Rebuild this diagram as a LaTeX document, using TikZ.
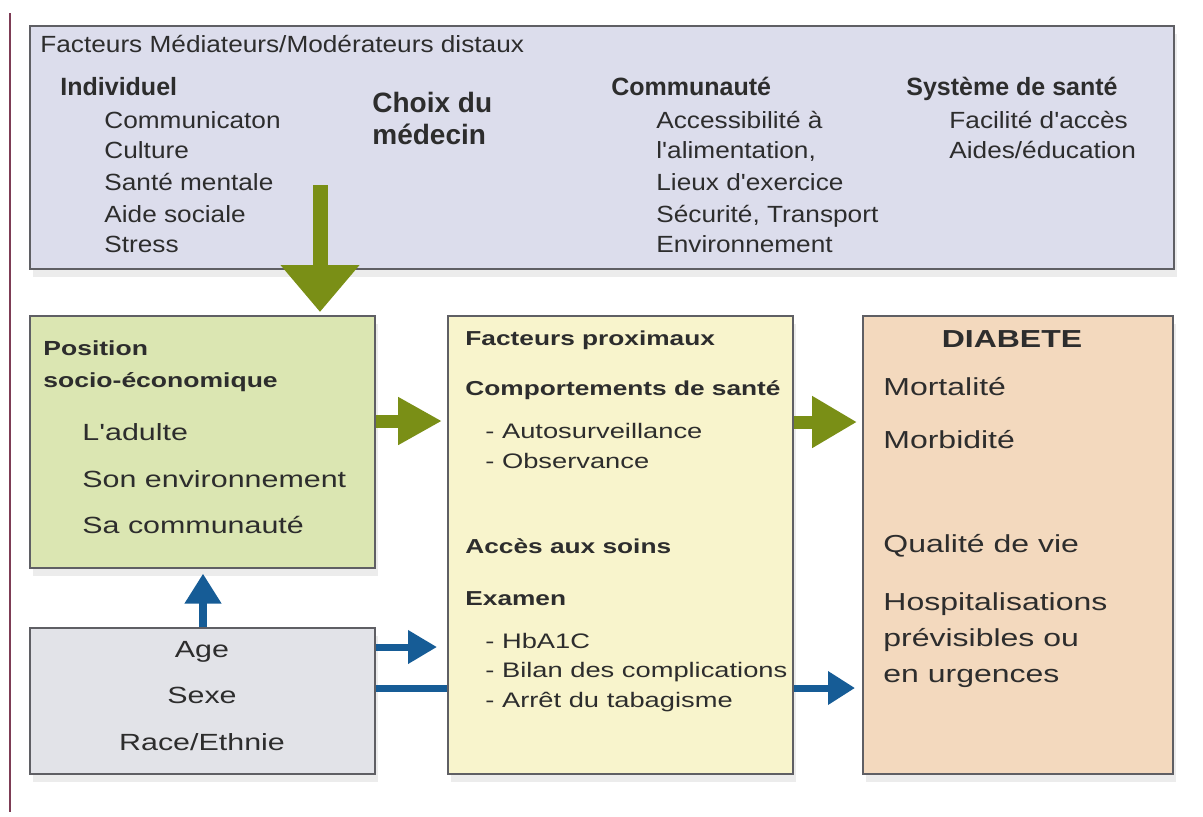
\documentclass[tikz,border=0pt]{standalone}
\usepackage{fontspec}
\setmainfont{Liberation Sans}
\newfontfamily\widefont[FakeStretch=1.3]{Liberation Sans}
\newfontfamily\semiwide[FakeStretch=1.12]{Liberation Sans}
\usetikzlibrary{arrows.meta,shadows}
\newcommand{\fsz}[1]{\fontsize{#1}{#1}\selectfont}
\definecolor{distfill}{RGB}{220,221,236}
\definecolor{sepfill}{RGB}{219,230,178}
\definecolor{demofill}{RGB}{226,227,232}
\definecolor{proxfill}{RGB}{248,244,204}
\definecolor{diabfill}{RGB}{243,217,190}
\definecolor{boxline}{RGB}{95,95,100}
\definecolor{txtc}{RGB}{45,45,45}
\definecolor{agreen}{RGB}{122,143,22}
\definecolor{ablue}{RGB}{22,92,150}
\definecolor{leftline}{RGB}{125,60,85}
\begin{document}
\begin{tikzpicture}[x=0.5pt,y=-0.5pt,
  box/.style={draw=boxline, line width=0.8pt, inner sep=0pt, anchor=north west,
    drop shadow={shadow xshift=1.5pt, shadow yshift=-4pt, opacity=.15}},
  txt/.style={anchor=mid west, inner sep=0pt, text=txtc},
  top/.style={txt, font=\semiwide\fsz{11.7}},
  tophd/.style={txt, font=\fsz{#1}\bfseries},
  low/.style={txt, font=\widefont\fsz{#1}},
  lowhd/.style={txt, font=\widefont\fsz{#1}\bfseries},
  garrow/.style={draw=agreen, line width=#1},
  barrow/.style={draw=ablue, line width=#1}]
\useasboundingbox (0,0) rectangle (1203,816);
\draw[leftline, line width=1pt] (10,13) -- (10,812);

% boxes
\node[box, fill=distfill, minimum width=572pt, minimum height=121.5pt] (dist) at (29,25) {};
\node[box, fill=sepfill, minimum width=172.5pt, minimum height=126pt] (sep) at (29,315) {};
\node[box, fill=demofill, minimum width=172.5pt, minimum height=73pt] (demo) at (29,627) {};
\node[box, fill=proxfill, minimum width=172.5pt, minimum height=229pt] (prox) at (447,315) {};
\node[box, fill=diabfill, minimum width=155pt, minimum height=229pt] (diab) at (862,315) {};

% distal factors
\node[top] (t0) at (40,47) {Facteurs Médiateurs/Modérateurs distaux};
\node[tophd=12.5] (i0) at (60,90) {Individuel};
\node[top] (i1) at (104,123) {Communicaton};
\node[top] (i2) at (104,153) {Culture};
\node[top] (i3) at (104,185) {Santé mentale};
\node[top] (i4) at (104,217) {Aide sociale};
\node[top] (i5) at (104,247) {Stress};
\node[tophd=14] (ch1) at (372,107) {Choix du};
\node[tophd=14] (ch2) at (372,139) {médecin};
\node[tophd=12.5] (c0) at (611,90) {Communauté};
\node[top] (c1) at (656,123) {Accessibilité à};
\node[top] (c2) at (656,153) {l'alimentation,};
\node[top] (c3) at (656,185) {Lieux d'exercice};
\node[top] (c4) at (656,217) {Sécurité, Transport};
\node[top] (c5) at (656,247) {Environnement};
\node[tophd=12.5] (s0) at (906,90) {Système de santé};
\node[top] (s1) at (949,123) {Facilité d'accès};
\node[top] (s2) at (949,153) {Aides/éducation};

% socio-economic position
\node[lowhd=10.2] (p1) at (43,350) {Position};
\node[lowhd=10.2] (p2) at (43,382) {socio-économique};
\node[low=11.7] (p3) at (82,435) {L'adulte};
\node[low=11.7] (p4) at (82,482) {Son environnement};
\node[low=11.7] (p5) at (82,528) {Sa communauté};

% age, sex, race
\node[low=11.7, anchor=mid] (a1) at (202,652) {Age};
\node[low=11.7, anchor=mid] (a2) at (202,698) {Sexe};
\node[low=11.7, anchor=mid] (a3) at (202,745) {Race/Ethnie};

% proximal factors
\node[lowhd=10.1] (f0) at (465,340) {Facteurs proximaux};
\node[lowhd=10.1] (f1) at (465,390) {Comportements de santé};
\node[low=10.5] (f2) at (485,433) {- Autosurveillance};
\node[low=10.5] (f3) at (485,463) {- Observance};
\node[lowhd=10.1] (f4) at (465,548) {Accès aux soins};
\node[lowhd=10.1] (f5) at (465,600) {Examen};
\node[low=10.5] (f6) at (485,643) {- HbA1C};
\node[low=10.5] (f7) at (485,672) {- Bilan des complications};
\node[low=10.5] (f8) at (485,702) {- Arrêt du tabagisme};

% outcomes
\node[lowhd=12.3, anchor=mid] (d0) at (1012,342) {DIABETE};
\node[low=12.3] (d1) at (883,390) {Mortalité};
\node[low=12.3] (d2) at (883,443) {Morbidité};
\node[low=12.3] (d3) at (883,547) {Qualité de vie};
\node[low=12.3] (d4) at (883,605) {Hospitalisations};
\node[low=12.3] (d5) at (883,641) {prévisibles ou};
\node[low=12.3] (d6) at (883,677) {en urgences};

% arrows
\coordinate (gd) at (320,185);
\coordinate (g1) at (0,421);
\coordinate (g2) at (0,422);
\coordinate (b1) at (0,647);
\coordinate (b2) at (0,688);
\coordinate (bu) at (203,0);
\draw[garrow=7.5pt, -{Triangle[width=38pt,length=23.5pt]}, shorten >=1.5pt] (gd) -- (sep.north -| gd);
\draw[garrow=6.5pt, -{Triangle[width=22.5pt,length=22pt]}, shorten >=2.5pt] (sep.east |- g1) -- (prox.west |- g1);
\draw[garrow=6.5pt, -{Triangle[width=24.5pt,length=22.5pt]}, shorten >=2.5pt] (prox.east |- g2) -- (diab.west |- g2);
\draw[barrow=4pt, -{Triangle[width=17.5pt,length=15pt]}, shorten >=2.5pt] (demo.north -| bu) -- (sep.south -| bu);
\draw[barrow=3.5pt, -{Triangle[width=16pt,length=14.5pt]}, shorten >=5pt] (demo.east |- b1) -- (prox.west |- b1);
\draw[barrow=3.5pt] (demo.east |- b2) -- (prox.west |- b2);
\draw[barrow=3.5pt, -{Triangle[width=16pt,length=13.5pt]}, shorten >=3.5pt] (prox.east |- b2) -- (diab.west |- b2);
\end{tikzpicture}
\end{document}
